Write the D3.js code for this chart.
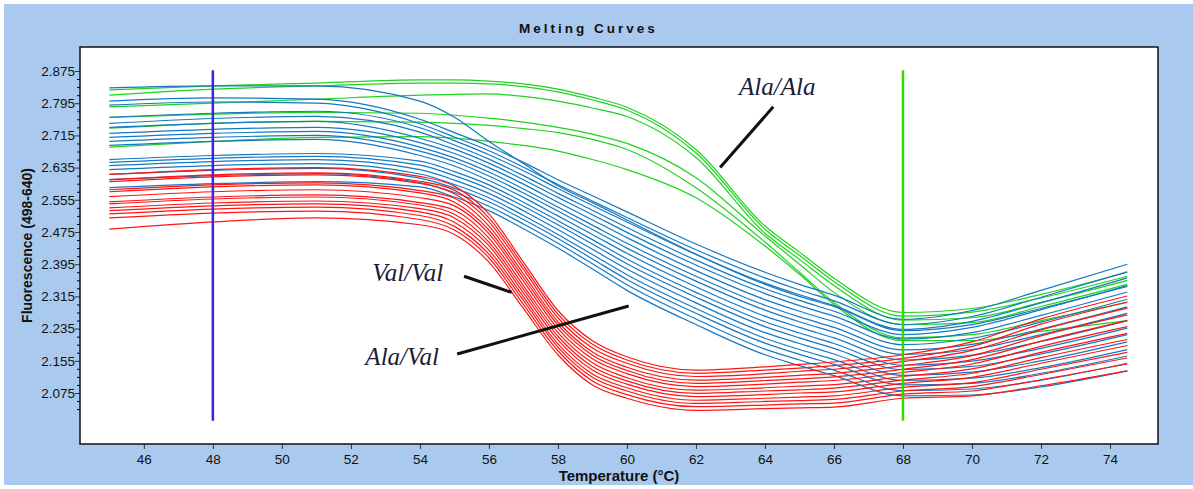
<!DOCTYPE html>
<html>
<head>
<meta charset="utf-8">
<script src="https://cdn.jsdelivr.net/npm/d3@7"></script>
<style>
  body { margin: 0; background: #fff; }
  svg { display: block; }
</style>
</head>
<body>
<svg id="drawing_region"></svg>
<script>
const temps = [45, 48, 51, 54, 55, 56, 57, 58, 59, 60, 62, 64, 65, 66, 68, 70, 72, 74.5];

// Ala/Ala (green)
const alaAla = [
  [2.828, 2.838, 2.845, 2.853, 2.853, 2.850, 2.843, 2.830, 2.810, 2.785, 2.680, 2.490, 2.425, 2.360, 2.275, 2.285, 2.320, 2.375],
  [2.815, 2.830, 2.838, 2.845, 2.845, 2.843, 2.836, 2.823, 2.803, 2.778, 2.672, 2.482, 2.417, 2.352, 2.266, 2.276, 2.311, 2.365],
  [2.786, 2.795, 2.805, 2.815, 2.817, 2.818, 2.812, 2.800, 2.783, 2.762, 2.660, 2.472, 2.407, 2.342, 2.256, 2.262, 2.300, 2.355],
  [2.760, 2.768, 2.772, 2.770, 2.765, 2.758, 2.748, 2.735, 2.718, 2.695, 2.610, 2.465, 2.395, 2.325, 2.245, 2.250, 2.290, 2.345],
  [2.733, 2.745, 2.750, 2.748, 2.745, 2.740, 2.732, 2.722, 2.705, 2.680, 2.585, 2.450, 2.375, 2.300, 2.212, 2.220, 2.255, 2.300],
  [2.686, 2.700, 2.710, 2.712, 2.708, 2.700, 2.690, 2.676, 2.655, 2.630, 2.560, 2.440, 2.370, 2.295, 2.205, 2.205, 2.228, 2.255]
];

// Ala/Val (blue)
const alaVal = [
  [2.833, 2.838, 2.838, 2.800, 2.760, 2.700, 2.645, 2.590, 2.548, 2.505, 2.420, 2.345, 2.315, 2.290, 2.230, 2.245, 2.285, 2.340],
  [2.800, 2.808, 2.805, 2.755, 2.722, 2.688, 2.648, 2.605, 2.565, 2.525, 2.445, 2.375, 2.345, 2.318, 2.258, 2.280, 2.330, 2.395],
  [2.790, 2.798, 2.795, 2.744, 2.711, 2.677, 2.636, 2.593, 2.552, 2.511, 2.431, 2.361, 2.331, 2.304, 2.245, 2.265, 2.313, 2.376],
  [2.760, 2.770, 2.775, 2.734, 2.702, 2.667, 2.627, 2.583, 2.541, 2.500, 2.419, 2.348, 2.319, 2.292, 2.233, 2.253, 2.299, 2.361],
  [2.745, 2.757, 2.762, 2.723, 2.691, 2.656, 2.615, 2.571, 2.529, 2.486, 2.405, 2.334, 2.305, 2.278, 2.220, 2.238, 2.282, 2.342],
  [2.735, 2.745, 2.750, 2.708, 2.681, 2.646, 2.605, 2.561, 2.518, 2.474, 2.393, 2.322, 2.292, 2.266, 2.209, 2.225, 2.268, 2.326],
  [2.720, 2.730, 2.735, 2.697, 2.670, 2.635, 2.594, 2.549, 2.505, 2.461, 2.379, 2.307, 2.278, 2.252, 2.195, 2.211, 2.251, 2.308],
  [2.710, 2.720, 2.725, 2.686, 2.659, 2.624, 2.582, 2.537, 2.492, 2.447, 2.365, 2.293, 2.264, 2.238, 2.182, 2.196, 2.234, 2.289],
  [2.700, 2.710, 2.715, 2.676, 2.650, 2.614, 2.572, 2.527, 2.481, 2.435, 2.353, 2.281, 2.252, 2.226, 2.171, 2.183, 2.220, 2.273],
  [2.690, 2.700, 2.705, 2.665, 2.639, 2.603, 2.561, 2.515, 2.469, 2.422, 2.339, 2.266, 2.238, 2.212, 2.157, 2.169, 2.203, 2.255],
  [2.655, 2.665, 2.670, 2.651, 2.625, 2.592, 2.549, 2.503, 2.456, 2.408, 2.325, 2.252, 2.224, 2.198, 2.144, 2.154, 2.186, 2.236],
  [2.648, 2.658, 2.663, 2.641, 2.615, 2.582, 2.539, 2.493, 2.445, 2.396, 2.313, 2.240, 2.212, 2.186, 2.133, 2.141, 2.172, 2.220],
  [2.640, 2.650, 2.655, 2.630, 2.604, 2.571, 2.528, 2.481, 2.432, 2.383, 2.299, 2.225, 2.198, 2.172, 2.119, 2.127, 2.155, 2.202],
  [2.630, 2.640, 2.645, 2.619, 2.593, 2.560, 2.516, 2.469, 2.419, 2.369, 2.285, 2.211, 2.183, 2.158, 2.106, 2.112, 2.138, 2.183],
  [2.618, 2.628, 2.633, 2.609, 2.584, 2.550, 2.506, 2.459, 2.408, 2.357, 2.273, 2.199, 2.171, 2.146, 2.095, 2.099, 2.124, 2.167],
  [2.605, 2.615, 2.620, 2.598, 2.573, 2.539, 2.495, 2.447, 2.396, 2.344, 2.259, 2.184, 2.157, 2.132, 2.081, 2.085, 2.107, 2.149],
  [2.585, 2.595, 2.600, 2.587, 2.562, 2.528, 2.483, 2.435, 2.383, 2.330, 2.245, 2.170, 2.143, 2.118, 2.068, 2.070, 2.090, 2.130]
];

// Val/Val (red)
const valVal = [
  [2.618, 2.630, 2.635, 2.613, 2.589, 2.520, 2.400, 2.280, 2.205, 2.165, 2.132, 2.140, 2.146, 2.152, 2.170, 2.202, 2.259, 2.316],
  [2.605, 2.617, 2.622, 2.601, 2.579, 2.510, 2.391, 2.271, 2.196, 2.157, 2.124, 2.132, 2.137, 2.143, 2.161, 2.191, 2.246, 2.301],
  [2.600, 2.612, 2.617, 2.596, 2.570, 2.501, 2.382, 2.262, 2.187, 2.149, 2.116, 2.123, 2.129, 2.134, 2.153, 2.181, 2.232, 2.286],
  [2.580, 2.592, 2.597, 2.578, 2.559, 2.490, 2.371, 2.252, 2.177, 2.139, 2.107, 2.114, 2.119, 2.124, 2.143, 2.168, 2.217, 2.269],
  [2.575, 2.587, 2.592, 2.572, 2.549, 2.480, 2.362, 2.244, 2.169, 2.131, 2.099, 2.106, 2.110, 2.115, 2.134, 2.158, 2.204, 2.255],
  [2.563, 2.575, 2.580, 2.560, 2.540, 2.471, 2.353, 2.235, 2.160, 2.123, 2.091, 2.097, 2.102, 2.106, 2.126, 2.147, 2.191, 2.240],
  [2.550, 2.562, 2.567, 2.548, 2.529, 2.460, 2.342, 2.225, 2.150, 2.113, 2.082, 2.088, 2.092, 2.096, 2.116, 2.135, 2.176, 2.223],
  [2.545, 2.557, 2.562, 2.542, 2.519, 2.450, 2.333, 2.216, 2.141, 2.105, 2.074, 2.080, 2.083, 2.087, 2.107, 2.124, 2.163, 2.208],
  [2.535, 2.547, 2.552, 2.533, 2.510, 2.441, 2.324, 2.207, 2.132, 2.097, 2.066, 2.071, 2.075, 2.078, 2.099, 2.114, 2.149, 2.193],
  [2.528, 2.540, 2.545, 2.525, 2.499, 2.430, 2.314, 2.197, 2.122, 2.088, 2.057, 2.062, 2.065, 2.068, 2.089, 2.101, 2.134, 2.176],
  [2.520, 2.532, 2.537, 2.516, 2.489, 2.420, 2.305, 2.189, 2.114, 2.080, 2.049, 2.054, 2.056, 2.059, 2.080, 2.091, 2.121, 2.162],
  [2.510, 2.522, 2.527, 2.506, 2.480, 2.411, 2.295, 2.180, 2.105, 2.071, 2.041, 2.045, 2.048, 2.050, 2.072, 2.080, 2.108, 2.147],
  [2.482, 2.500, 2.510, 2.493, 2.469, 2.400, 2.285, 2.170, 2.095, 2.062, 2.032, 2.036, 2.038, 2.040, 2.062, 2.068, 2.093, 2.130]
];

const xTicks = [46, 48, 50, 52, 54, 56, 58, 60, 62, 64, 66, 68, 70, 72, 74];
const yTicks = [2.075, 2.155, 2.235, 2.315, 2.395, 2.475, 2.555, 2.635, 2.715, 2.795, 2.875];
const yMinorTicks = [2.035, 2.055, 2.095, 2.115, 2.135, 2.175, 2.195, 2.215, 2.255, 2.275, 2.295,
  2.335, 2.355, 2.375, 2.415, 2.435, 2.455, 2.495, 2.515, 2.535, 2.575, 2.595, 2.615,
  2.655, 2.675, 2.695, 2.735, 2.755, 2.775, 2.815, 2.835, 2.855];

// cursor lines
const markerTemps = [48, 68];
const markerRange = [2.006, 2.877];

// annotations in data units
const labels = [
  { text: 'Ala/Ala', t: 63.25, v: 2.816 },
  { text: 'Val/Val', t: 52.62, v: 2.353 },
  { text: 'Ala/Val', t: 52.42, v: 2.145 }
];
const pointers = [
  { t1: 62.7, v1: 2.635, t2: 64.24, v2: 2.786 },
  { t1: 55.28, v1: 2.365, t2: 56.66, v2: 2.325 },
  { t1: 55.08, v1: 2.172, t2: 60.05, v2: 2.291 }
];

const W = 1193, H = 489;
const plot = { left: 80, top: 47, right: 1158, bottom: 444 };

const svg = d3.select('#drawing_region')
  .attr('width', W)
  .attr('height', H);

// window frame
svg.append('rect')
  .attr('x', 4).attr('y', 4)
  .attr('width', W - 4).attr('height', 481)
  .attr('fill', '#a9caee');

svg.append('rect')
  .attr('x', plot.left).attr('y', plot.top)
  .attr('width', plot.right - plot.left)
  .attr('height', plot.bottom - plot.top)
  .attr('fill', '#fff');

const x = d3.scaleLinear().domain([44.15, 75.39]).range([plot.left, plot.right]);
const y = d3.scaleLinear().domain([1.9483, 2.9346]).range([plot.bottom, plot.top]);

svg.append('clipPath').attr('id', 'clip')
  .append('rect')
  .attr('x', plot.left).attr('y', plot.top)
  .attr('width', plot.right - plot.left)
  .attr('height', plot.bottom - plot.top);

const line = d3.line()
  .x((d, i) => x(temps[i]))
  .y(d => y(d))
  .curve(d3.curveMonotoneX);

const curves = svg.append('g').attr('clip-path', 'url(#clip)');

const groups = [
  { data: alaAla, color: '#1ed21e' },
  { data: alaVal, color: '#1479c2' },
  { data: valVal, color: '#ff1414' }
];

groups.forEach(gr => {
  curves.selectAll(null)
    .data(gr.data)
    .enter()
    .append('path')
    .attr('d', line)
    .attr('fill', 'none')
    .attr('stroke', gr.color)
    .attr('stroke-width', 1.2);
});

// cursors
svg.selectAll('.marker')
  .data(markerTemps)
  .enter()
  .append('line')
  .attr('x1', d => x(d)).attr('x2', d => x(d))
  .attr('y1', y(markerRange[1])).attr('y2', y(markerRange[0]))
  .attr('stroke', (d, i) => i === 0 ? '#4020d8' : '#30d800')
  .attr('stroke-width', 2.5);

// annotations
svg.selectAll('.pointer')
  .data(pointers)
  .enter()
  .append('line')
  .attr('x1', d => x(d.t1)).attr('y1', d => y(d.v1))
  .attr('x2', d => x(d.t2)).attr('y2', d => y(d.v2))
  .attr('stroke', '#111')
  .attr('stroke-width', 3);

svg.selectAll('.label')
  .data(labels)
  .enter()
  .append('text')
  .attr('x', d => x(d.t))
  .attr('y', d => y(d.v))
  .attr('font-family', '"Liberation Serif", "Times New Roman", serif')
  .attr('font-style', 'italic')
  .attr('font-size', '25px')
  .attr('fill', '#1c1c36')
  .text(d => d.text);

// axes
const font = '"Liberation Sans", Arial, sans-serif';

const xAxis = svg.append('g')
  .attr('transform', `translate(0,${plot.bottom})`)
  .call(d3.axisBottom(x).tickValues(xTicks).tickSize(5).tickPadding(5).tickFormat(d3.format('d')));

const yAxis = svg.append('g')
  .attr('transform', `translate(${plot.left},0)`)
  .call(d3.axisLeft(y).tickValues(yTicks).tickSize(5).tickPadding(0).tickFormat(d3.format('.3f')));

svg.append('g')
  .attr('transform', `translate(${plot.left},0)`)
  .call(d3.axisLeft(y).tickValues(yMinorTicks).tickSize(3).tickFormat(''))
  .select('.domain').remove();

[xAxis, yAxis].forEach(a => {
  a.select('.domain').remove();
  a.selectAll('text')
    .attr('font-family', font)
    .attr('font-size', '13.5px')
    .attr('fill', '#111');
  a.selectAll('line').attr('stroke', '#333');
});

// plot border
svg.append('rect')
  .attr('x', plot.left).attr('y', plot.top)
  .attr('width', plot.right - plot.left)
  .attr('height', plot.bottom - plot.top)
  .attr('fill', 'none')
  .attr('stroke', '#111')
  .attr('stroke-width', 1.5);

// titles
svg.append('text')
  .attr('x', 519).attr('y', 33)
  .attr('font-family', font)
  .attr('font-weight', 'bold')
  .attr('font-size', '13.5px')
  .attr('letter-spacing', '3px')
  .attr('fill', '#111')
  .text('Melting Curves');

svg.append('text')
  .attr('x', (plot.left + plot.right) / 2).attr('y', 481)
  .attr('text-anchor', 'middle')
  .attr('font-family', font)
  .attr('font-weight', 'bold')
  .attr('font-size', '15px')
  .attr('fill', '#111')
  .text('Temperature (°C)');

svg.append('text')
  .attr('transform', `translate(32,${(plot.top + plot.bottom) / 2}) rotate(-90)`)
  .attr('text-anchor', 'middle')
  .attr('font-family', font)
  .attr('font-weight', 'bold')
  .attr('font-size', '14px')
  .attr('fill', '#111')
  .text('Fluorescence (498-640)');
</script>
</body>
</html>
